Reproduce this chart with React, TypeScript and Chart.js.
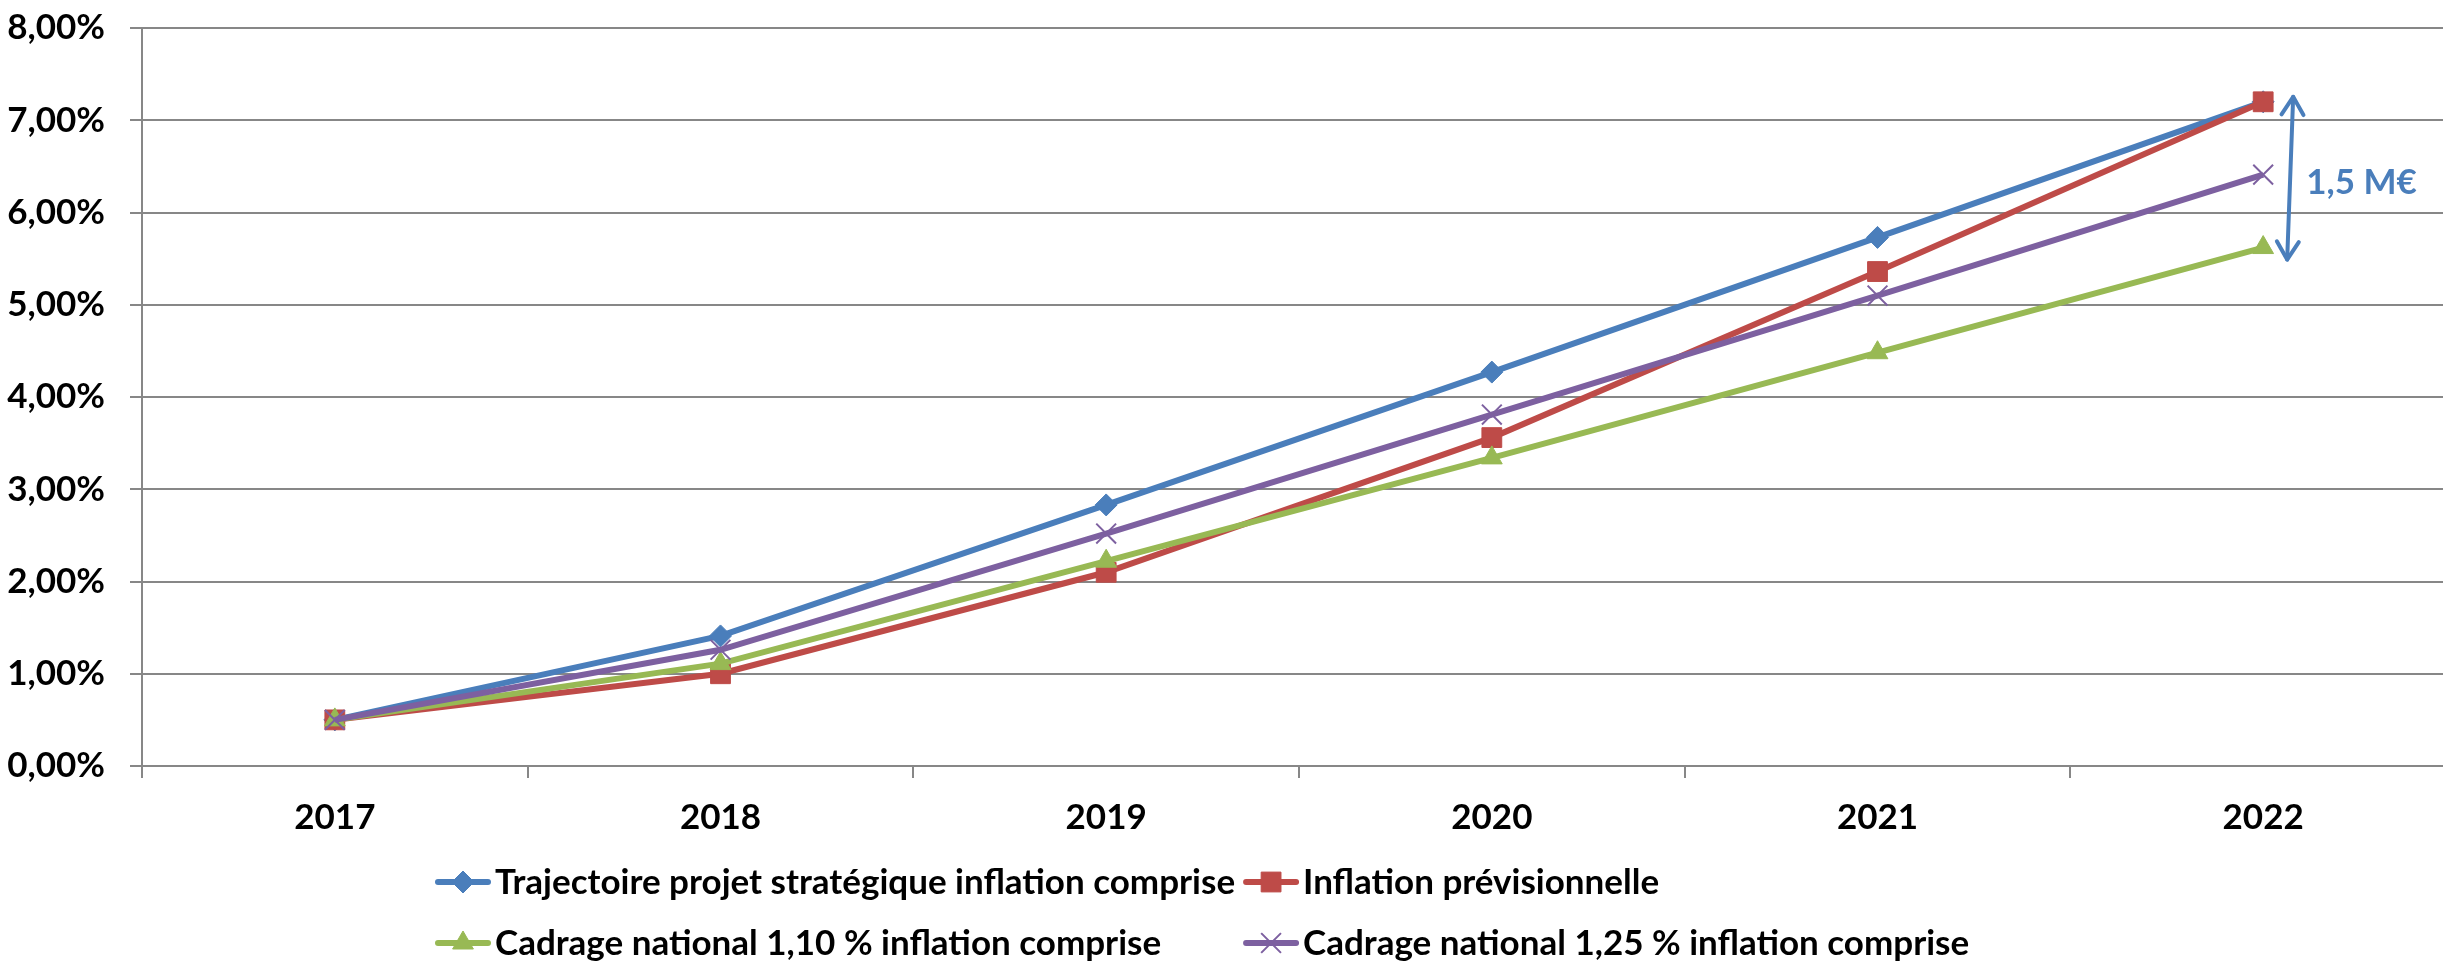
import React, { useEffect, useRef } from 'react';
import { Chart, registerables } from 'chart.js';
import { drawPoint } from 'chart.js/helpers';

Chart.register(...registerables);

const years = ['2017', '2018', '2019', '2020', '2021', '2022'];
const trajectoire = [0.5, 1.41, 2.83, 4.27, 5.73, 7.2];
const inflation = [0.5, 1.0, 2.1, 3.56, 5.36, 7.2];
const cadrage110 = [0.5, 1.11, 2.22, 3.34, 4.48, 5.62];
const cadrage125 = [0.5, 1.26, 2.52, 3.81, 5.1, 6.41];
const seriesLabels = [
  'Trajectoire projet stratégique inflation comprise',
  'Inflation prévisionnelle',
  'Cadrage national 1,10 % inflation comprise',
  'Cadrage national 1,25 % inflation comprise',
];
const annotationText = '1,5 M€';

const BLUE = '#4A7EBB';
const RED = '#BE4B48';
const GREEN = '#98B954';
const PURPLE = '#7D60A0';
const GRID = '#878787';
const FONT = 'Lato';
const FS = 35;

const pointDefs = [
  { style: 'rectRot', radius: 11, color: BLUE, bw: 1 },
  { style: 'rect', radius: 14, color: RED, bw: 1 },
  { style: 'triangle', radius: 12, color: GREEN, bw: 1 },
  { style: 'crossRot', radius: 14, color: PURPLE, bw: 2 },
];

const legendPlugin = {
  id: 'customLegend',
  afterDraw(chart: any) {
    const ctx = chart.ctx;
    const area = chart.chartArea;
    ctx.save();
    ctx.font = `bold ${FS}px ${FONT}`;
    ctx.textBaseline = 'middle';
    ctx.textAlign = 'left';
    const widths = seriesLabels.map((t) => ctx.measureText(t).width);
    const markerW = 56;
    const textGap = 4;
    const colGap = 8;
    const col1 = 435;
    const col2 = col1 + markerW + textGap + Math.max(widths[0], widths[2]) + colGap;
    const row1 = area.bottom + 116;
    const row2 = area.bottom + 177;
    const pos = [
      [col1, row1],
      [col2, row1],
      [col1, row2],
      [col2, row2],
    ];
    seriesLabels.forEach((label, i) => {
      const [x, y] = pos[i];
      const d = pointDefs[i];
      ctx.strokeStyle = d.color;
      ctx.lineWidth = 6;
      ctx.lineCap = 'round';
      ctx.beginPath();
      ctx.moveTo(x + 3, y);
      ctx.lineTo(x + markerW - 3, y);
      ctx.stroke();
      ctx.lineCap = 'butt';
      ctx.fillStyle = d.color;
      ctx.strokeStyle = d.color;
      ctx.lineWidth = d.bw;
      drawPoint(ctx, { pointStyle: d.style, radius: d.radius, rotation: 0, borderWidth: d.bw } as any, x + markerW / 2, y);
      ctx.fillStyle = '#000';
      ctx.fillText(label, x + markerW + textGap, y + 1);
    });
    ctx.restore();
  },
};

const arrowPlugin = {
  id: 'gapArrow',
  afterDatasetsDraw(chart: any) {
    const ctx = chart.ctx;
    const xs = chart.scales.x;
    const ys = chart.scales.y;
    const last = years.length - 1;
    const vals = [trajectoire[last], inflation[last], cadrage110[last], cadrage125[last]];
    const top = ys.getPixelForValue(Math.max(...vals)) - 5;
    const bot = ys.getPixelForValue(Math.min(...vals)) + 12;
    const xBase = xs.getPixelForValue(last);
    const xTop = xBase + 30;
    const xBot = xBase + 24;
    ctx.save();
    ctx.strokeStyle = BLUE;
    ctx.lineWidth = 4;
    ctx.lineCap = 'round';
    ctx.lineJoin = 'round';
    ctx.beginPath();
    ctx.moveTo(xTop, top);
    ctx.lineTo(xBot, bot);
    ctx.stroke();
    const ang = Math.atan2(bot - top, xBot - xTop);
    const head = (tx: number, ty: number, dir: number) => {
      const len = 21;
      const spread = 0.55;
      ctx.beginPath();
      ctx.moveTo(tx + Math.cos(dir + spread) * len, ty + Math.sin(dir + spread) * len);
      ctx.lineTo(tx, ty);
      ctx.lineTo(tx + Math.cos(dir - spread) * len, ty + Math.sin(dir - spread) * len);
      ctx.stroke();
    };
    head(xTop, top, ang);
    head(xBot, bot, ang + Math.PI);
    ctx.fillStyle = BLUE;
    ctx.font = `bold ${FS}px ${FONT}`;
    ctx.textBaseline = 'middle';
    ctx.textAlign = 'left';
    ctx.fillText(annotationText, xTop + 13, (top + bot) / 2 + 5);
    ctx.restore();
  },
};

export default function App() {
  const ref = useRef<HTMLCanvasElement | null>(null);
  useEffect(() => {
    if (!ref.current) return;
    const mk = (label: string, data: number[], i: number, order: number) => {
      const d = pointDefs[i];
      return {
        label,
        data,
        borderColor: d.color,
        backgroundColor: d.color,
        borderWidth: 6,
        pointStyle: d.style,
        pointRadius: d.radius,
        pointBackgroundColor: d.color,
        pointBorderColor: d.color,
        pointBorderWidth: d.bw,
        tension: 0,
        order,
        clip: false,
      };
    };
    const chart = new Chart(ref.current, {
      type: 'line',
      data: {
        labels: years,
        datasets: [
          mk(seriesLabels[0], trajectoire, 0, 4),
          mk(seriesLabels[1], inflation, 1, 3),
          mk(seriesLabels[2], cadrage110, 2, 2),
          mk(seriesLabels[3], cadrage125, 3, 1),
        ] as any,
      },
      options: {
        responsive: false,
        animation: false,
        devicePixelRatio: 1,
        layout: { autoPadding: false, padding: { top: 28, left: 0, right: 0, bottom: 0 } },
        plugins: {
          legend: { display: false },
          tooltip: { enabled: false },
        },
        scales: {
          x: {
            offset: true,
            grid: {
              display: true,
              offset: true,
              drawOnChartArea: false,
              drawTicks: true,
              tickLength: 12,
              color: GRID,
              lineWidth: 2,
            },
            border: { display: true, color: GRID, width: 2 },
            ticks: {
              color: '#000',
              font: { family: FONT, size: FS, weight: 'bold' },
              padding: 19,
              maxRotation: 0,
            },
            afterFit: (s: any) => {
              s.height = 195;
              s.paddingLeft = 0;
              s.paddingRight = 0;
            },
          },
          y: {
            min: 0,
            max: 8,
            ticks: {
              stepSize: 1,
              color: '#000',
              font: { family: FONT, size: FS, weight: 'bold' },
              padding: 25,
              callback: (v: any) => `${Number(v).toFixed(2).replace('.', ',')}%`,
            },
            grid: {
              color: GRID,
              lineWidth: 2,
              drawTicks: true,
              tickLength: 12,
            },
            border: { display: true, color: GRID, width: 2 },
            afterFit: (s: any) => {
              s.width = 142;
              s.paddingTop = 0;
              s.paddingBottom = 0;
            },
          },
        },
      } as any,
      plugins: [legendPlugin, arrowPlugin],
    });
    return () => chart.destroy();
  }, []);
  return (
    <div
      style={{
        position: 'fixed',
        left: 0,
        top: 0,
        width: '2443px',
        height: '961px',
        overflow: 'hidden',
        background: '#fff',
      }}
    >
      <canvas ref={ref} width={2456} height={961} style={{ width: '2456px', height: '961px', display: 'block' }} />
    </div>
  );
}
